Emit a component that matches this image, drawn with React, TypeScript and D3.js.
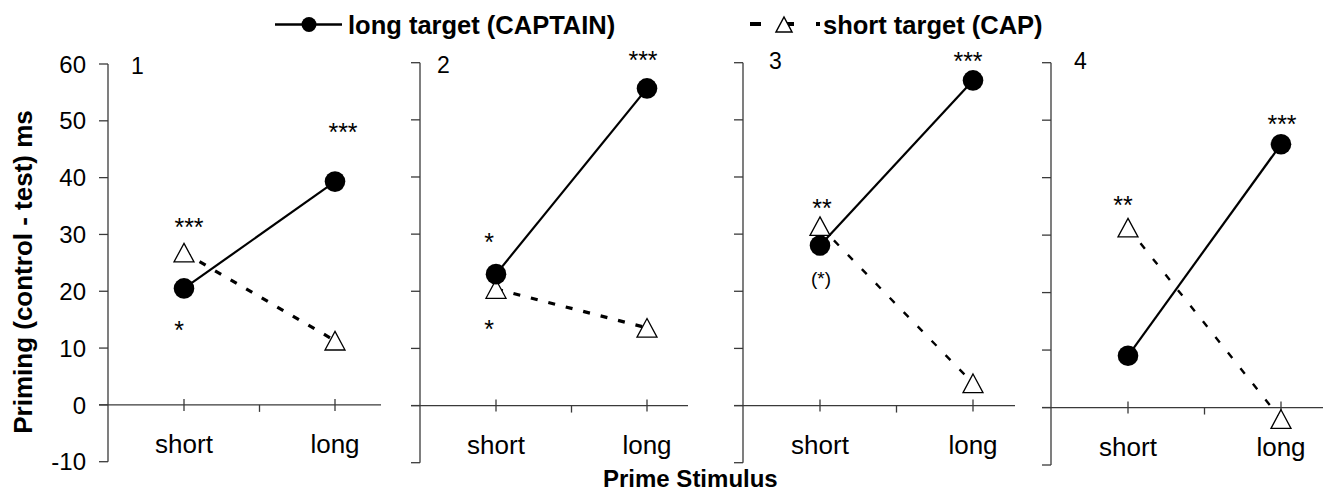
import React from "react";
import * as d3 from "d3";

// ---- Data ----
const CATEGORIES = ["short", "long"];
const PANEL_NAMES = ["1", "2", "3", "4"];
const Y_TICKS = [-10, 0, 10, 20, 30, 40, 50, 60];
// long target (CAPTAIN): [short prime, long prime] per panel
const LONG_TARGET = [
  [20.5, 39.3],
  [23.0, 55.5],
  [28.0, 56.9],
  [9.0, 45.8],
];
// short target (CAP)
const SHORT_TARGET = [
  [26.8, 11.3],
  [20.4, 13.6],
  [31.4, 3.9],
  [31.3, -2.0],
];
const SERIES_NAMES = ["long target (CAPTAIN)", "short target (CAP)"];
// significance marks: panel, category, vertical position (data units), text
const ANNOTATIONS = [
  { panel: 0, cat: "short", v: 32.2, text: "***", dx: 5 },
  { panel: 0, cat: "short", v: 14.1, text: "*", dx: -5 },
  { panel: 0, cat: "long", v: 49.0, text: "***", dx: 8 },
  { panel: 1, cat: "short", v: 29.5, text: "*", dx: -7 },
  { panel: 1, cat: "short", v: 14.3, text: "*", dx: -7 },
  { panel: 1, cat: "long", v: 61.5, text: "***", dx: -4 },
  { panel: 2, cat: "short", v: 35.6, text: "**", dx: 2 },
  { panel: 2, cat: "short", v: 22.3, text: "(*)", dx: 1, small: true },
  { panel: 2, cat: "long", v: 61.2, text: "***", dx: -5 },
  { panel: 3, cat: "short", v: 36.2, text: "**", dx: -5 },
  { panel: 3, cat: "long", v: 50.2, text: "***", dx: 1 },
];

// ---- Layout ----
const LAYOUT = [
  { axisX: 108, top: 64, bottom: 461.7, xs: 184, xl: 335, end: 381, numX: 131, numY: 74, dash: "7,11", dw: 3.2 },
  { axisX: 420, top: 62.7, bottom: 462.7, xs: 496, xl: 647, end: 688, numX: 437, numY: 73, dash: "7,11", dw: 3.2 },
  { axisX: 743, top: 62.7, bottom: 462.7, xs: 820, xl: 973, end: 1015, numX: 769, numY: 69, dash: "7,13", dw: 2.4 },
  { axisX: 1051, top: 62.7, bottom: 465, xs: 1128, xl: 1281, end: 1323, numX: 1074, numY: 69, dash: "7,13", dw: 2.4 },
];

const FONT = "'Liberation Sans', Arial, sans-serif";
const AXIS = "#3a3a3a";

function triPath(x: number, y: number, w = 20, h = 18.6) {
  return `M${x},${y - h / 2}L${x + w / 2},${y + h / 2}L${x - w / 2},${y + h / 2}Z`;
}

function Panel({ i }: { i: number }) {
  const L = LAYOUT[i];
  const y = d3.scaleLinear().domain([-10, 60]).range([L.bottom, L.top]);
  const x = d3.scalePoint<string>().domain(CATEGORIES).range([L.xs, L.xl]);
  const line = d3
    .line<[string, number]>()
    .x((d) => x(d[0]) as number)
    .y((d) => y(d[1]));
  const longPts: [string, number][] = CATEGORIES.map((c, k) => [c, LONG_TARGET[i][k]]);
  const shortPts: [string, number][] = CATEGORIES.map((c, k) => [c, SHORT_TARGET[i][k]]);
  const y0 = y(0);
  const mid = ((x("short") as number) + (x("long") as number)) / 2;
  return (
    <g>
      {/* y axis */}
      <line x1={L.axisX} x2={L.axisX} y1={L.top} y2={L.bottom} stroke={AXIS} strokeWidth={1.3} />
      {Y_TICKS.map((t) => (
        <line key={t} x1={L.axisX - 9} x2={L.axisX} y1={y(t)} y2={y(t)} stroke={AXIS} strokeWidth={1.3} />
      ))}
      {i === 0 &&
        Y_TICKS.map((t) => (
          <text
            key={"l" + t}
            x={L.axisX - 22}
            y={y(t)}
            dy="0.36em"
            textAnchor="end"
            fontSize={24}
            fontFamily={FONT}
            fill="#000"
          >
            {t}
          </text>
        ))}
      {/* x axis */}
      <line x1={L.axisX - 9} x2={L.end} y1={y0} y2={y0} stroke={AXIS} strokeWidth={1.3} />
      {CATEGORIES.map((c) => (
        <line key={c} x1={x(c)} x2={x(c)} y1={y0 - 6} y2={y0 + 6} stroke={AXIS} strokeWidth={1.3} />
      ))}
      <line x1={mid} x2={mid} y1={y0} y2={y0 + 7} stroke={AXIS} strokeWidth={1.3} />
      {CATEGORIES.map((c) => (
        <text
          key={"x" + c}
          x={x(c)}
          y={y0 + 48}
          textAnchor="middle"
          fontSize={26}
          fontFamily={FONT}
          fill="#000"
        >
          {c}
        </text>
      ))}
      {/* panel number */}
      <text x={L.numX} y={L.numY} fontSize={23} fontFamily={FONT} fill="#000">
        {PANEL_NAMES[i]}
      </text>
      {/* lines */}
      <path d={line(shortPts) || ""} fill="none" stroke="#000" strokeWidth={L.dw} strokeDasharray={L.dash} />
      <path d={line(longPts) || ""} fill="none" stroke="#000" strokeWidth={2.2} />
      {shortPts.map((p, k) => (
        <path key={"t" + k} d={triPath(x(p[0]) as number, y(p[1]))} fill="#fff" stroke="#000" strokeWidth={1.3} />
      ))}
      {longPts.map((p, k) => (
        <circle key={"c" + k} cx={x(p[0])} cy={y(p[1])} r={10.3} fill="#000" />
      ))}
      {ANNOTATIONS.filter((a) => a.panel === i).map((a, k) => {
        const fs = a.small ? 19 : 25;
        const cx = (x(a.cat) as number) + a.dx;
        const cy = y(a.v);
        return (
          <text
            key={"a" + k}
            x={cx}
            y={a.small ? cy + 0.35 * fs : cy + 0.575 * fs}
            textAnchor="middle"
            fontSize={fs}
            fontFamily={FONT}
            fill="#000"
          >
            {a.text}
          </text>
        );
      })}
    </g>
  );
}

export default function App() {
  return (
    <svg
      width={1327}
      height={491}
      style={{ position: "absolute", left: 0, top: 0, background: "#fff" }}
    >
      <rect width={1327} height={491} fill="#fff" />
      {/* legend */}
      <line x1={275} x2={342} y1={24.5} y2={24.5} stroke="#000" strokeWidth={2.5} />
      <circle cx={309} cy={24.5} r={7.5} fill="#000" />
      <text x={348} y={34} fontSize={25.5} fontWeight="bold" fontFamily={FONT} fill="#000">
        {SERIES_NAMES[0]}
      </text>
      <line x1={750} x2={820} y1={24} y2={24} stroke="#000" strokeWidth={4} strokeDasharray="11,22" />
      <path d={triPath(784, 24.5, 16, 15)} fill="#fff" stroke="#000" strokeWidth={1.5} />
      <text x={823} y={34} fontSize={25.5} fontWeight="bold" fontFamily={FONT} fill="#000">
        {SERIES_NAMES[1]}
      </text>
      {LAYOUT.map((_, i) => (
        <Panel key={i} i={i} />
      ))}
      {/* axis titles */}
      <text
        transform="translate(32,272) rotate(-90)"
        textAnchor="middle"
        fontSize={26}
        fontWeight="bold"
        fontFamily={FONT}
        fill="#000"
      >
        Priming (control - test) ms
      </text>
      <text x={603} y={487} fontSize={24} fontWeight="bold" fontFamily={FONT} fill="#000">
        Prime Stimulus
      </text>
    </svg>
  );
}
